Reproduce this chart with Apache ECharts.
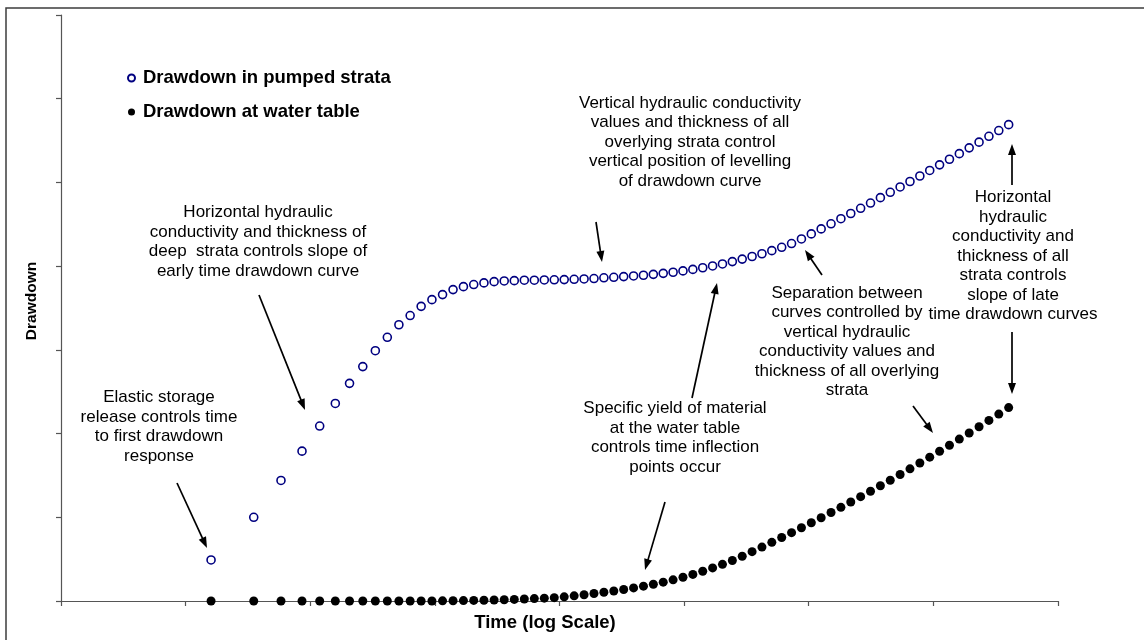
<!DOCTYPE html>
<html>
<head>
<meta charset="utf-8">
<script src="https://cdn.jsdelivr.net/npm/echarts@6.0.0/dist/echarts.min.js"></script>
<style>
  html, body { margin: 0; padding: 0; background: #ffffff; }
  #chart { width: 1144px; height: 640px; }
</style>
</head>
<body>
<div id="chart"></div>
<script>
// Elapsed time of each reading (arbitrary units, plotted on a log axis)
const timeSteps = [
  16, 35.2, 58.24, 85.888, 119.07, 158.88, 206.65, 263.99, 332.78, 415.34,
  514.41, 633.29, 775.95, 947.14, 1152.6, 1399.1, 1694.9, 2049.9, 2475.8, 2987.0,
  3600.4, 4336.5, 5219.8, 6279.7, 7551.7, 9078.0, 10910, 13108, 15745, 18910,
  22708, 27266, 32735, 39298, 47173, 56624, 67965, 81574, 97905, 117502,
  141018, 169238, 203101, 243738, 292501, 351017, 421237, 505500, 606616, 727955,
  873562, 1048290, 1257965, 1509573, 1811504, 2173821, 2608601, 3130337, 3756421, 4507721,
  5409281, 6491154, 7789400, 9347296, 11216772, 13460142, 16152187, 19382640, 23259184, 27911037,
  33493260, 40191928
];

// Drawdown in the pumped strata
const pumpedStrata = [
  0.49, 1.00, 1.44, 1.79, 2.09, 2.36, 2.60, 2.80, 2.99, 3.15,
  3.30, 3.41, 3.52, 3.60, 3.66, 3.72, 3.755, 3.78, 3.80, 3.815,
  3.823, 3.827, 3.832, 3.832, 3.835, 3.837, 3.839, 3.843, 3.847, 3.852,
  3.861, 3.867, 3.875, 3.883, 3.891, 3.902, 3.914, 3.927, 3.943, 3.961,
  3.981, 4.002, 4.026, 4.054, 4.084, 4.115, 4.148, 4.185, 4.225, 4.270,
  4.325, 4.385, 4.445, 4.506, 4.567, 4.629, 4.691, 4.754, 4.818, 4.882,
  4.946, 5.011, 5.077, 5.143, 5.210, 5.277, 5.344, 5.413, 5.481, 5.551,
  5.620, 5.690
];

// Drawdown at the water table
const waterTable = [
  0, 0, 0, 0, 0, 0, 0, 0, 0, 0,
  0, 0, 0, 0, 0.002, 0.003, 0.005, 0.007, 0.009, 0.012,
  0.015, 0.019, 0.024, 0.029, 0.034, 0.040, 0.050, 0.062, 0.075, 0.089,
  0.104, 0.120, 0.137, 0.156, 0.177, 0.200, 0.225, 0.253, 0.284, 0.318,
  0.355, 0.395, 0.438, 0.484, 0.535, 0.589, 0.644, 0.701, 0.758, 0.816,
  0.875, 0.935, 0.995, 1.057, 1.119, 1.182, 1.246, 1.311, 1.377, 1.443,
  1.511, 1.579, 1.648, 1.718, 1.789, 1.861, 1.934, 2.007, 2.082, 2.157,
  2.233, 2.310
];

const seriesNames = ['Drawdown in pumped strata', 'Drawdown at water table'];
const axisTitles = { x: 'Time (log Scale)', y: 'Drawdown' };

// Explanatory notes: text lines and the centre of each block
const notes = [
  { lines: ['Elastic storage', 'release controls time', 'to first drawdown', 'response'], x: 159, y: 427 },
  { lines: ['Horizontal hydraulic', 'conductivity and thickness of', 'deep  strata controls slope of', 'early time drawdown curve'], x: 258, y: 242 },
  { lines: ['Vertical hydraulic conductivity', 'values and thickness of all', 'overlying strata control', 'vertical position of levelling', 'of drawdown curve'], x: 690, y: 142 },
  { lines: ['Specific yield of material', 'at the water table', 'controls time inflection', 'points occur'], x: 675, y: 438 },
  { lines: ['Separation between', 'curves controlled by', 'vertical hydraulic', 'conductivity values and', 'thickness of all overlying', 'strata'], x: 847, y: 342 },
  { lines: ['Horizontal', 'hydraulic', 'conductivity and', 'thickness of all', 'strata controls', 'slope of late', 'time drawdown curves'], x: 1013, y: 256 }
];

// Pointer arrows [fromX, fromY, toX, toY]
const pointers = [
  [177, 483, 207, 548],
  [259, 295, 305, 410],
  [596, 222, 602, 262],
  [665, 502, 645, 570],
  [692, 398, 717, 283],
  [822, 275, 805, 250],
  [913, 406, 933, 433],
  [1012, 185, 1012, 144],
  [1012, 332, 1012, 394]
];

const FONT = "'Liberation Sans', Arial, sans-serif";

function arrowElements(p) {
  const [x1, y1, x2, y2] = p;
  const dx = x2 - x1, dy = y2 - y1;
  const len = Math.hypot(dx, dy);
  const ux = dx / len, uy = dy / len;
  const headLen = 11, headHalf = 4;
  const bx = x2 - ux * headLen, by = y2 - uy * headLen;
  return [
    { type: 'line', shape: { x1: x1, y1: y1, x2: bx + ux * 2, y2: by + uy * 2 },
      style: { stroke: '#000', lineWidth: 1.7 }, z: 10 },
    { type: 'polygon',
      shape: { points: [[x2, y2], [bx - uy * headHalf, by + ux * headHalf], [bx + uy * headHalf, by - ux * headHalf]] },
      style: { fill: '#000' }, z: 10 }
  ];
}

const graphics = [
  { type: 'rect', shape: { x: 6, y: 8, width: 1300, height: 800 },
    style: { fill: 'none', stroke: '#3c3c3c', lineWidth: 1.5 }, z: 1, silent: true }
];
notes.forEach(n => {
  graphics.push({
    type: 'text', z: 10,
    style: {
      text: n.lines.join('\n'), x: n.x, y: n.y,
      font: '17px ' + FONT, lineHeight: 19.5,
      textAlign: 'center', textVerticalAlign: 'middle',
      align: 'center', verticalAlign: 'middle',
      fill: '#000'
    }
  });
});
pointers.forEach(p => graphics.push(...arrowElements(p)));

const chart = echarts.init(document.getElementById('chart'), null, { renderer: 'canvas' });
chart.setOption({
  animation: false,
  backgroundColor: '#ffffff',
  grid: { left: 61, right: 86, top: 15, bottom: 39, containLabel: false },
  legend: {
    data: seriesNames,
    orient: 'vertical',
    left: 122, top: 63,
    icon: 'circle',
    itemWidth: 7, itemHeight: 7,
    itemGap: 14,
    selectedMode: false,
    textStyle: { fontFamily: FONT, fontWeight: 'bold', fontSize: 18.5, lineHeight: 20, color: '#000', padding: [0, 0, 0, 3] }
  },
  xAxis: {
    type: 'log', logBase: 10, min: 1, max: 1e8, splitNumber: 8,
    name: axisTitles.x, nameLocation: 'middle', nameGap: 12,
    nameTextStyle: { fontFamily: FONT, fontWeight: 'bold', fontSize: 18.5, color: '#000', padding: [0, 29, 0, 0] },
    axisLine: { show: true, lineStyle: { color: '#555', width: 1.2 } },
    axisTick: { show: true, inside: false, length: 5, lineStyle: { color: '#555', width: 1.2 } },
    minorTick: { show: false },
    axisLabel: { show: false },
    splitLine: { show: false }
  },
  yAxis: {
    type: 'value', min: 0, max: 7, interval: 1,
    name: axisTitles.y, nameLocation: 'middle', nameGap: 21,
    nameTextStyle: { fontFamily: FONT, fontWeight: 'bold', fontSize: 15.5, color: '#000', padding: [0, 0, 0, 14] },
    axisLine: { show: true, lineStyle: { color: '#555', width: 1.2 } },
    axisTick: { show: true, inside: false, length: 5, lineStyle: { color: '#555', width: 1.2 } },
    axisLabel: { show: false },
    splitLine: { show: false }
  },
  series: [
    {
      name: seriesNames[0], type: 'scatter', symbol: 'circle', symbolSize: 8,
      itemStyle: { color: '#ffffff', borderColor: '#000080', borderWidth: 1.6, opacity: 1 },
      emphasis: { disabled: true },
      data: timeSteps.map((t, i) => [t, pumpedStrata[i]]), z: 3
    },
    {
      name: seriesNames[1], type: 'scatter', symbol: 'circle', symbolSize: 9,
      itemStyle: { color: '#000000', opacity: 1 },
      emphasis: { disabled: true },
      data: timeSteps.map((t, i) => [t, waterTable[i]]), z: 4
    }
  ],
  graphic: graphics
});
</script>
</body>
</html>
